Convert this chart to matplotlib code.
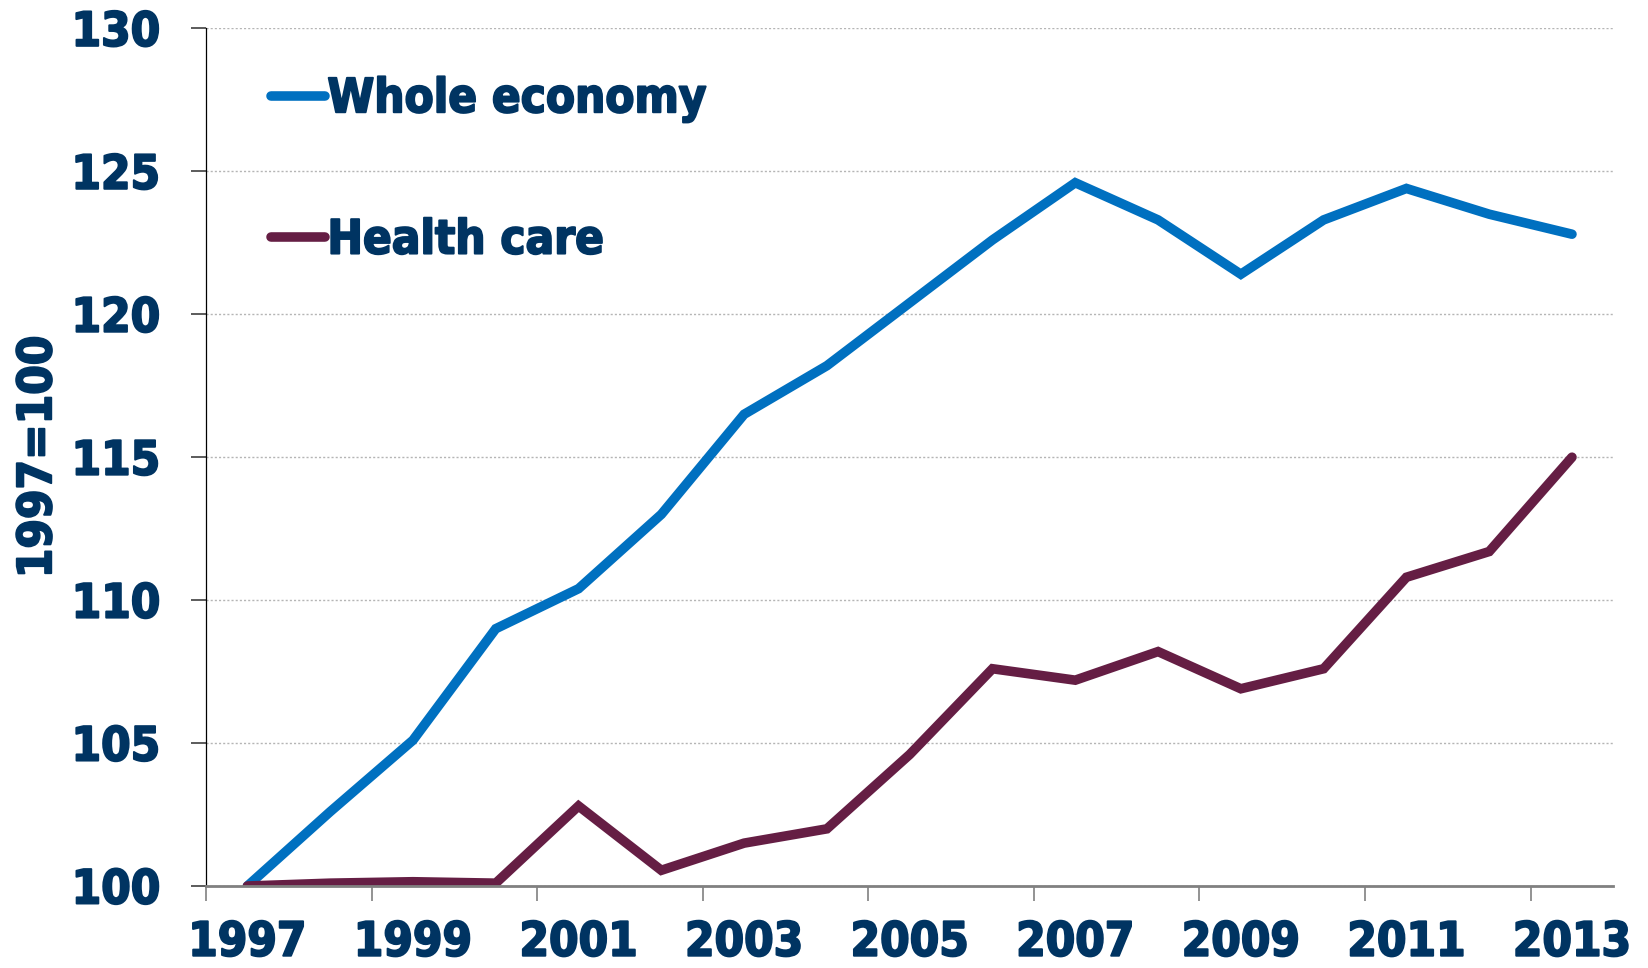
import matplotlib
matplotlib.use("Agg")
import matplotlib.pyplot as plt
import matplotlib.patheffects as pe
import numpy as np

# Productivity index, 1997 = 100
years = list(range(1997, 2014))
whole_economy = [100.0, 102.6, 105.1, 109.0, 110.4, 113.0, 116.5, 118.2, 120.4,
                 122.6, 124.6, 123.3, 121.4, 123.3, 124.4, 123.5, 122.8]
health_care = [100.0, 100.1, 100.15, 100.1, 102.8, 100.55, 101.5, 102.0, 104.6,
               107.6, 107.2, 108.2, 106.9, 107.6, 110.8, 111.7, 115.0]
series_names = ["Whole economy", "Health care"]
y_ticks = [100, 105, 110, 115, 120, 125, 130]

NAVY = "#003462"
BLUE = "#0070C0"
MAROON = "#651E44"
FONT = dict(family="DejaVu Sans", weight="bold", stretch="condensed")
SIZE = 34
HEAVY = [pe.withStroke(linewidth=1.4, foreground=NAVY)]

fig = plt.figure(figsize=(16.48, 9.68), dpi=100)
ax = fig.add_axes([0.125, 0.0847, 0.854, 0.886])

x = np.arange(len(years))
for vals, name, col in [(whole_economy, series_names[0], BLUE),
                        (health_care, series_names[1], MAROON)]:
    ax.plot(x, vals, color=col, lw=6.9, label=name,
            solid_capstyle="round", solid_joinstyle="miter", zorder=3)

ax.set_xlim(-0.5, len(years) - 0.5)
ax.set_ylim(100, 130)

# category axis: tick marks between categories, labels every other year
ax.set_xticks(np.arange(-0.5, len(years) - 0.5, 2))
ax.set_xticklabels([])
ax.set_xticks(x[::2], minor=True)
ax.set_xticklabels([str(y) for y in years[::2]], minor=True)
ax.tick_params(axis="x", which="major", direction="out", length=11,
               width=1.2, color="#808080")
ax.tick_params(axis="x", which="minor", length=0, pad=25, labelsize=SIZE,
               labelcolor=NAVY)

ax.set_yticks(y_ticks)
ax.set_yticklabels([str(v) for v in y_ticks])
ax.tick_params(axis="y", direction="out", length=11, width=1.2,
               color="#404040", pad=22, labelsize=SIZE, labelcolor=NAVY)

for lab in ax.get_xticklabels(minor=True) + ax.get_yticklabels():
    lab.set_fontfamily(FONT["family"])
    lab.set_fontweight(FONT["weight"])
    lab.set_fontstretch(FONT["stretch"])
    lab.set_path_effects(HEAVY)

ax.grid(axis="y", color="#b5b5b5", linestyle=(0, (1.5, 1.5)), lw=1.0)
ax.set_axisbelow(True)

for s in ["top", "right"]:
    ax.spines[s].set_visible(False)
ax.spines["left"].set_color("#000000")
ax.spines["left"].set_linewidth(0.9)
ax.spines["bottom"].set_color("#808080")
ax.spines["bottom"].set_linewidth(2.0)
ax.spines["bottom"].set_zorder(4)

fig.text(0.0235, 0.528, "1997=100", rotation=90, ha="center", va="center",
         fontsize=SIZE, color=NAVY, path_effects=HEAVY, **FONT)

leg = ax.legend(loc="upper left", bbox_to_anchor=(0.046, 0.943), frameon=False,
                handlelength=1.15, handletextpad=0.05, labelspacing=2.04,
                borderpad=0, borderaxespad=0,
                prop=dict(size=SIZE, **FONT), labelcolor=NAVY)
for t in leg.get_texts():
    t.set_path_effects(HEAVY)

fig.savefig("out.png", dpi=100, facecolor="white")
